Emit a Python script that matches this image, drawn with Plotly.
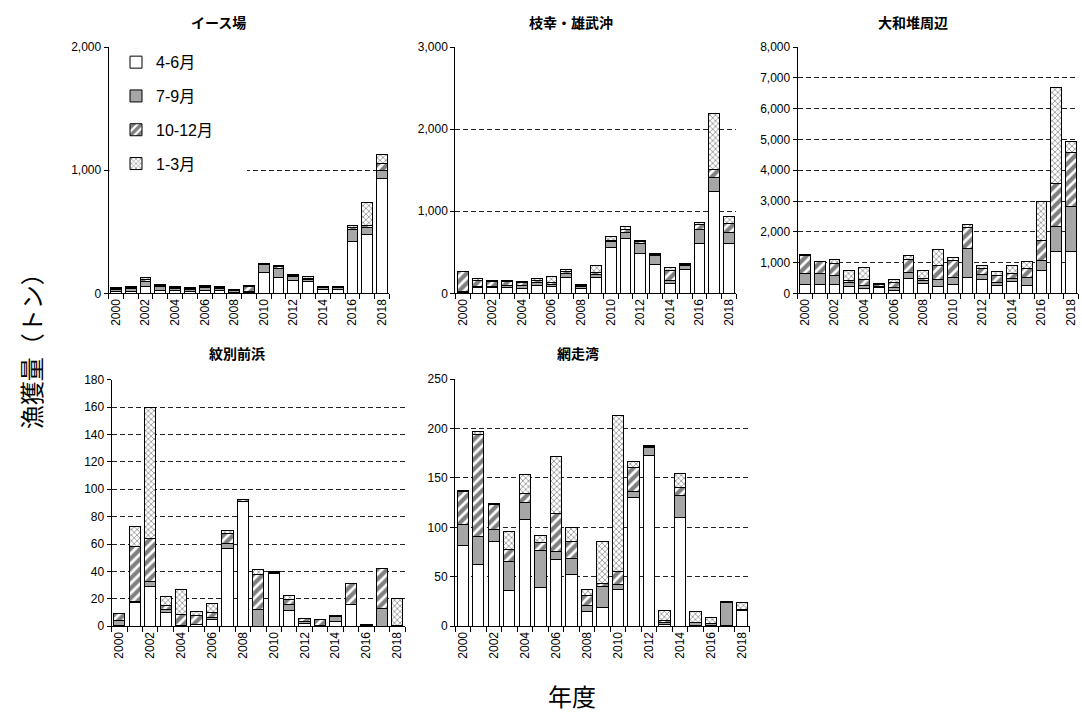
import plotly.graph_objects as go

# ---- data -----------------------------------------------------------------
years = list(range(2000, 2019))
year_ticks = list(range(2000, 2019, 2))
season_names = ["4-6月", "7-9月", "10-12月", "1-3月"]
region_titles = ["イース場", "枝幸・雄武沖", "大和堆周辺", "紋別前浜", "網走湾"]

# イース場 (t)
esu_apr_jun = [12, 15, 58, 24, 20, 15, 22, 20, 8, 10, 170, 127, 106, 95, 30, 30, 424, 477, 935]
esu_jul_sep = [20, 25, 35, 29, 22, 20, 25, 22, 15, 8, 64, 77, 29, 15, 15, 18, 95, 61, 66]
esu_oct_dec = [8, 8, 18, 10, 8, 5, 8, 6, 6, 35, 5, 16, 13, 12, 5, 6, 19, 16, 50]
esu_jan_mar = [6, 5, 16, 8, 6, 5, 6, 5, 3, 8, 2, 5, 6, 18, 3, 4, 13, 180, 74]

# 枝幸・雄武沖 (t)
esashi_apr_jun = [10, 67, 71, 71, 59, 95, 83, 194, 59, 198, 561, 672, 482, 348, 115, 292, 608, 1244, 604]
esashi_jul_sep = [10, 16, 16, 28, 32, 32, 24, 47, 24, 28, 71, 71, 130, 107, 43, 43, 170, 166, 142]
esashi_oct_dec = [240, 79, 55, 43, 40, 28, 24, 24, 12, 32, 12, 40, 20, 20, 119, 16, 59, 95, 103]
esashi_jan_mar = [5, 24, 16, 20, 15, 20, 79, 24, 8, 79, 47, 36, 12, 12, 43, 12, 28, 690, 87]

# 大和堆周辺 (t)
yamato_apr_jun = [296, 296, 296, 211, 158, 180, 106, 496, 317, 222, 285, 517, 444, 264, 370, 264, 750, 1373, 1373]
yamato_jul_sep = [338, 348, 285, 127, 106, 53, 84, 169, 106, 232, 243, 940, 180, 84, 127, 253, 306, 813, 1447]
yamato_oct_dec = [581, 380, 391, 95, 201, 63, 158, 422, 74, 465, 528, 686, 190, 232, 158, 285, 665, 1373, 1750]
yamato_jan_mar = [42, 21, 137, 296, 370, 21, 116, 148, 243, 507, 95, 106, 106, 137, 264, 222, 1257, 3121, 365]

# 紋別前浜 (t)
monbetsu_apr_jun = [0.5, 17.4, 29.3, 10.2, 0.3, 1.2, 5.0, 56.4, 90.7, 0.0, 38.8, 11.4, 1.9, 0.2, 3.6, 15.7, 0.3, 0.0, 0.3]
monbetsu_jul_sep = [3.5, 0.5, 3.6, 1.7, 0.3, 0.3, 1.4, 4.3, 0.5, 11.9, 0.3, 4.5, 1.7, 0.3, 3.3, 0.5, 0.3, 13.1, 0.3]
monbetsu_oct_dec = [5.0, 40.5, 31.0, 3.1, 8.3, 6.2, 3.8, 7.1, 1.4, 25.5, 0.5, 3.3, 1.9, 4.5, 0.8, 15.0, 0.3, 28.8, 0.0]
monbetsu_jan_mar = [0.5, 14.3, 96.0, 6.7, 18.0, 3.3, 6.4, 1.9, 0.0, 4.3, 0.2, 3.3, 0.5, 0.0, 0.2, 0.0, 0.3, 0.0, 19.4]

# 網走湾 (t)
abashiri_apr_jun = [81.8, 62.2, 85.4, 36.1, 108.2, 38.7, 67.2, 52.3, 14.9, 18.5, 37.4, 130.0, 172.7, 1.7, 110.2, 0.3, 0.3, 0.3, 15.6]
abashiri_jul_sep = [20.9, 28.1, 12.9, 29.1, 17.1, 38.4, 8.9, 16.2, 6.0, 21.8, 5.3, 6.0, 7.7, 1.7, 21.8, 3.3, 2.6, 24.2, 0.6]
abashiri_oct_dec = [33.3, 104.0, 25.2, 12.2, 9.4, 7.9, 38.1, 17.2, 10.3, 2.7, 12.9, 25.0, 1.0, 2.6, 8.3, 0.3, 0.3, 0.3, 0.3]
abashiri_jan_mar = [1.0, 2.5, 0.8, 18.2, 18.6, 7.0, 57.8, 14.3, 6.2, 42.4, 157.1, 6.0, 1.3, 9.9, 14.0, 11.0, 6.1, 0.0, 7.3]

region_values = [
    [esu_apr_jun, esu_jul_sep, esu_oct_dec, esu_jan_mar],
    [esashi_apr_jun, esashi_jul_sep, esashi_oct_dec, esashi_jan_mar],
    [yamato_apr_jun, yamato_jul_sep, yamato_oct_dec, yamato_jan_mar],
    [monbetsu_apr_jun, monbetsu_jul_sep, monbetsu_oct_dec, monbetsu_jan_mar],
    [abashiri_apr_jun, abashiri_jul_sep, abashiri_oct_dec, abashiri_jan_mar],
]
y_ranges = [2000, 3000, 8000, 180, 250]
y_steps = [1000, 1000, 1000, 20, 50]

# ---- layout helpers -------------------------------------------------------
W, H = 1082, 720
FONT = "Arial, 'Liberation Sans', 'Noto Sans CJK JP', sans-serif"
JP_FONT = "'Noto Sans CJK JP', sans-serif"


def fx(px):
    return px / W


def fy(px):
    return 1 - px / H


# panel frames in pixels: (left, right), (top, bottom), title centre x, title y
panels = [
    ((108.6, 389.4), (41, 292), 218, 15),
    ((455.3, 736.4), (41, 292), 571, 15),
    ((797.6, 1078.4), (41, 292), 913, 15),
    ((111.6, 405.0), (380, 631.5), 237, 353),
    ((455.0, 749.8), (379.5, 631.5), 578, 353),
]

styles = [
    dict(color="white", line=dict(color="black", width=1)),
    dict(color="#a6a6a6", line=dict(color="black", width=1)),
    dict(color="white", line=dict(color="black", width=1),
         pattern=dict(shape="/", fgcolor="black", bgcolor="white", size=7, solidity=0.6)),
    dict(color="white", line=dict(color="black", width=1),
         pattern=dict(shape="x", fgcolor="#3a3a3a", bgcolor="white", size=4, solidity=0.4)),
]

fig = go.Figure()
annotations = []

for i, (vals, (xd, yd, tx, ty)) in enumerate(zip(region_values, panels)):
    sfx = "" if i == 0 else str(i + 1)
    for name, series, style in zip(season_names, vals, styles):
        fig.add_trace(go.Bar(
            x=years, y=series, name=name, legendgroup=name,
            showlegend=(i == 0), marker=style,
            xaxis="x" + sfx, yaxis="y" + sfx,
        ))
    fig.layout["xaxis" + sfx] = dict(
        domain=[fx(xd[0]), fx(xd[1])], anchor="y" + sfx,
        range=[1999.5, 2018.5], tickvals=year_ticks, ticks="",
        tickangle=-90, tickfont=dict(size=12, color="black", family=FONT),
        showline=True, linecolor="black", linewidth=1, showgrid=False, zeroline=False,
        minor=dict(tickvals=[y - 0.5 for y in years] + [2018.5], ticks="outside",
                   ticklen=5, tickcolor="black", showgrid=False),
    )
    fig.layout["yaxis" + sfx] = dict(
        domain=[fy(yd[1]), fy(yd[0])], anchor="x" + sfx,
        range=[0, y_ranges[i]], dtick=y_steps[i], tick0=0, tickformat=",",
        ticks="outside", ticklen=4, tickcolor="black",
        tickfont=dict(size=12, color="black", family=FONT),
        showline=True, linecolor="black", linewidth=1, zeroline=False,
        showgrid=True, gridcolor="#222222", gridwidth=1, griddash="5px,3px",
    )
    annotations.append(dict(
        text=region_titles[i], x=fx(tx), y=fy(ty), xref="paper", yref="paper",
        xanchor="center", yanchor="middle", showarrow=False,
        font=dict(size=14, color="black", family=JP_FONT, weight="bold"),
    ))

annotations.append(dict(
    text="漁獲量（トン）", x=fx(30), y=fy(345), xref="paper", yref="paper",
    textangle=-90, showarrow=False, xanchor="center", yanchor="middle",
    font=dict(size=24, color="black", family=JP_FONT),
))
annotations.append(dict(
    text="年度", x=fx(572), y=fy(702), xref="paper", yref="paper",
    showarrow=False, xanchor="center", yanchor="middle",
    font=dict(size=24, color="black", family=JP_FONT),
))

fig.update_layout(
    width=W, height=H,
    margin=dict(l=0, r=0, t=0, b=0),
    paper_bgcolor="white", plot_bgcolor="white",
    barmode="stack", bargap=0.27,
    font=dict(family=FONT, color="black"),
    annotations=annotations,
    legend=dict(
        x=fx(116), y=fy(39), xanchor="left", yanchor="top",
        traceorder="grouped", tracegroupgap=10, itemwidth=30,
        bgcolor="rgba(0,0,0,0)", font=dict(size=16, family=FONT, color="black"),
    ),
    shapes=[dict(
        type="rect", xref="paper", yref="paper", layer="above",
        x0=fx(109.5), x1=fx(247), y0=fy(172), y1=fy(158),
        fillcolor="white", line=dict(width=0),
    )],
)

fig.write_html("out.html")
